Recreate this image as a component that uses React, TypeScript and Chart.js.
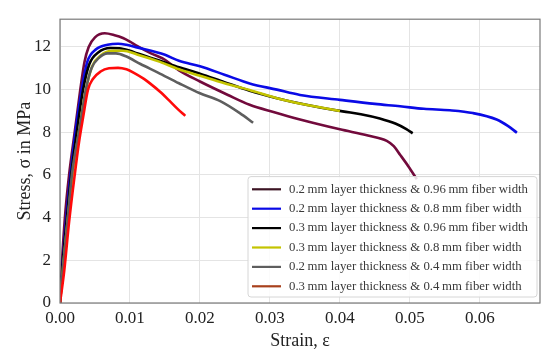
import React, { useEffect, useRef } from "react";
import { Chart, registerables } from "chart.js";

Chart.register(...registerables);

const seriesLabels = [
  "0.2\u2009mm layer thickness & 0.96\u2009mm fiber width",
  "0.2\u2009mm layer thickness & 0.8\u2009mm fiber width",
  "0.3\u2009mm layer thickness & 0.96\u2009mm fiber width",
  "0.3\u2009mm layer thickness & 0.8\u2009mm fiber width",
  "0.2\u2009mm layer thickness & 0.4\u2009mm fiber width",
  "0.3\u2009mm layer thickness & 0.4\u2009mm fiber width",
];
const seriesColors = ["#720a3c", "#0a0ae6", "#000000", "#c4c400", "#5e5e5e", "#ff0a0a"];
const legendColors = ["#3c1424", "#0a0ae6", "#000000", "#c4c400", "#5e5e5e", "#a8401c"];

const strain1 = [0, 0.0003, 0.0007, 0.0013, 0.0021, 0.0029, 0.0035, 0.0041, 0.005, 0.0064, 0.0078, 0.009, 0.01, 0.011, 0.013, 0.015, 0.017, 0.02, 0.024, 0.0271, 0.0305, 0.0343, 0.04, 0.044, 0.0467, 0.0477, 0.0486, 0.0498, 0.051];
const stress1 = [0, 2.0, 4.0, 6.0, 8.0, 10.0, 11.3, 12.0, 12.45, 12.64, 12.55, 12.42, 12.25, 12.05, 11.7, 11.4, 10.9, 10.38, 9.75, 9.29, 8.95, 8.6, 8.14, 7.85, 7.6, 7.35, 6.95, 6.4, 5.8];

const strain2 = [0, 0.0004, 0.0009, 0.0015, 0.0022, 0.0031, 0.0039, 0.0052, 0.0068, 0.0083, 0.0095, 0.011, 0.015, 0.017, 0.02, 0.0235, 0.0271, 0.031, 0.0343, 0.04, 0.045, 0.0486, 0.052, 0.0557, 0.059, 0.0624, 0.064, 0.0653];
const stress2 = [0, 2.0, 4.0, 6.0, 8.0, 10.0, 11.3, 11.9, 12.1, 12.15, 12.1, 11.98, 11.63, 11.35, 11.09, 10.7, 10.29, 10.0, 9.75, 9.52, 9.33, 9.22, 9.1, 9.03, 8.9, 8.6, 8.3, 7.98];

const strain3 = [0, 0.0004, 0.001, 0.0016, 0.0024, 0.0033, 0.0042, 0.0055, 0.0072, 0.0085, 0.01, 0.011, 0.0143, 0.017, 0.02, 0.0235, 0.0271, 0.031, 0.035, 0.0404, 0.043, 0.0457, 0.048, 0.0495, 0.0504];
const stress3 = [0, 1.9, 4.0, 6.0, 8.0, 10.0, 11.2, 11.75, 11.95, 11.94, 11.82, 11.7, 11.35, 11.05, 10.75, 10.35, 9.95, 9.6, 9.3, 8.98, 8.85, 8.65, 8.4, 8.15, 7.95];

const strain4 = [0, 0.0005, 0.0011, 0.0018, 0.0027, 0.0037, 0.0046, 0.0058, 0.0075, 0.009, 0.011, 0.0143, 0.017, 0.02, 0.0235, 0.0271, 0.031, 0.035, 0.0375, 0.04];
const stress4 = [0, 1.9, 3.9, 6.0, 8.0, 10.0, 11.1, 11.6, 11.82, 11.82, 11.65, 11.3, 10.95, 10.65, 10.3, 9.98, 9.6, 9.3, 9.15, 9.0];

const strain5 = [0, 0.0005, 0.0011, 0.0017, 0.0027, 0.0037, 0.0045, 0.0056, 0.0068, 0.008, 0.0095, 0.0115, 0.014, 0.017, 0.02, 0.0229, 0.0257, 0.0276];
const stress5 = [0, 1.9, 3.9, 6.0, 8.0, 10.0, 11.0, 11.5, 11.7, 11.7, 11.55, 11.2, 10.8, 10.3, 9.83, 9.46, 8.9, 8.45];

const strain6 = [0, 0.0006, 0.0013, 0.0021, 0.0027, 0.0033, 0.004, 0.0047, 0.0058, 0.007, 0.0083, 0.0095, 0.0105, 0.012, 0.0129, 0.0143, 0.0157, 0.0168, 0.0179];
const stress6 = [0, 1.5, 3.8, 6.0, 7.5, 8.7, 10.0, 10.5, 10.85, 11.0, 11.02, 10.95, 10.8, 10.5, 10.28, 9.9, 9.46, 9.1, 8.77];

const strainSeries = [strain1, strain2, strain3, strain4, strain5, strain6];
const stressSeries = [stress1, stress2, stress3, stress4, stress5, stress6];

const xTicks = [0, 0.01, 0.02, 0.03, 0.04, 0.05, 0.06];
const yTicks = [0, 2, 4, 6, 8, 10, 12];
const xMax = 0.0686;
const yMax = 13.3;

const FONT = "'Liberation Serif', 'DejaVu Serif', serif";

const framePlugin = {
  id: "frame",
  afterDatasetsDraw(chart: any) {
    const { ctx, chartArea: a } = chart;
    ctx.save();
    ctx.strokeStyle = "#7a7a7a";
    ctx.lineWidth = 1.2;
    ctx.strokeRect(a.left, a.top, a.right - a.left, a.bottom - a.top);
    ctx.restore();
  },
};

const legendPlugin = {
  id: "innerLegend",
  afterDraw(chart: any) {
    const { ctx, chartArea: a } = chart;
    ctx.save();
    ctx.font = `12.8px ${FONT}`;
    let maxW = 0;
    seriesLabels.forEach((l) => (maxW = Math.max(maxW, ctx.measureText(l).width)));
    const rowH = 19.4;
    const boxW = 41 + maxW + 9;
    const boxH = rowH * seriesLabels.length + 4;
    const right = a.right - 3;
    const bottom = a.bottom - 6;
    const left = right - boxW;
    const top = bottom - boxH;
    ctx.fillStyle = "rgba(255,255,255,0.85)";
    ctx.strokeStyle = "#d6d6d6";
    ctx.lineWidth = 1;
    ctx.beginPath();
    const r = 3;
    ctx.moveTo(left + r, top);
    ctx.lineTo(right - r, top);
    ctx.quadraticCurveTo(right, top, right, top + r);
    ctx.lineTo(right, bottom - r);
    ctx.quadraticCurveTo(right, bottom, right - r, bottom);
    ctx.lineTo(left + r, bottom);
    ctx.quadraticCurveTo(left, bottom, left, bottom - r);
    ctx.lineTo(left, top + r);
    ctx.quadraticCurveTo(left, top, left + r, top);
    ctx.closePath();
    ctx.fill();
    ctx.stroke();
    ctx.textBaseline = "middle";
    ctx.textAlign = "left";
    seriesLabels.forEach((label, i) => {
      const y = top + 2 + rowH * (i + 0.5) + 1;
      ctx.strokeStyle = legendColors[i];
      ctx.lineWidth = 2.2;
      ctx.beginPath();
      ctx.moveTo(left + 4, y);
      ctx.lineTo(left + 33, y);
      ctx.stroke();
      ctx.fillStyle = "#3a3a3a";
      ctx.fillText(label, left + 41, y);
    });
    ctx.restore();
  },
};

export default function App() {
  const ref = useRef<HTMLCanvasElement | null>(null);
  useEffect(() => {
    if (!ref.current) return;
    const datasets = seriesLabels.map((label, i) => ({
      label,
      data: strainSeries[i].map((x, j) => ({ x, y: stressSeries[i][j] })),
      borderColor: seriesColors[i],
      backgroundColor: seriesColors[i],
      borderWidth: 2.6,
      pointRadius: 0,
      tension: 0.35,
      cubicInterpolationMode: "monotone" as const,
      fill: false,
      order: seriesLabels.length - 1 - i,
    }));
    const chart = new Chart(ref.current, {
      type: "line",
      data: { datasets },
      plugins: [framePlugin, legendPlugin],
      options: {
        animation: false,
        responsive: false,
        events: [],
        layout: { padding: { top: 15, right: 10, left: 0, bottom: 0 } },
        plugins: { legend: { display: false }, tooltip: { enabled: false } },
        scales: {
          x: {
            type: "linear",
            min: 0,
            max: xMax,
            afterBuildTicks: (s: any) => {
              s.ticks = xTicks.map((v) => ({ value: v }));
            },
            afterFit: (s: any) => {
              s.height = 49;
            },
            border: { display: false },
            grid: { color: "#e4e4e4", lineWidth: 1, drawTicks: false },
            ticks: {
              padding: 5,
              color: "#222",
              font: { family: FONT, size: 17 },
              maxRotation: 0,
              callback: (v: any) => Number(v).toFixed(2),
            },
            title: {
              display: true,
              text: "Strain, ε",
              color: "#222",
              font: { family: FONT, size: 18 },
              padding: { top: 8, bottom: 0 },
            },
          },
          y: {
            type: "linear",
            min: 0,
            max: yMax,
            afterBuildTicks: (s: any) => {
              s.ticks = yTicks.map((v) => ({ value: v }));
            },
            afterFit: (s: any) => {
              s.width = 60;
            },
            border: { display: false },
            grid: { color: "#e4e4e4", lineWidth: 1, drawTicks: false },
            ticks: {
              padding: 9,
              color: "#222",
              font: { family: FONT, size: 17 },
              callback: (v: any) => String(v),
            },
            title: {
              display: true,
              text: "Stress, σ in MPa",
              color: "#222",
              font: { family: FONT, size: 18 },
              padding: { top: 14, bottom: 0 },
            },
          },
        },
      },
    });
    return () => chart.destroy();
  }, []);
  return (
    <div style={{ position: "absolute", left: 0, top: 0, width: 550, height: 352, background: "#fff" }}>
      <canvas ref={ref} width={550} height={352} style={{ display: "block", width: 550, height: 352 }} />
    </div>
  );
}
